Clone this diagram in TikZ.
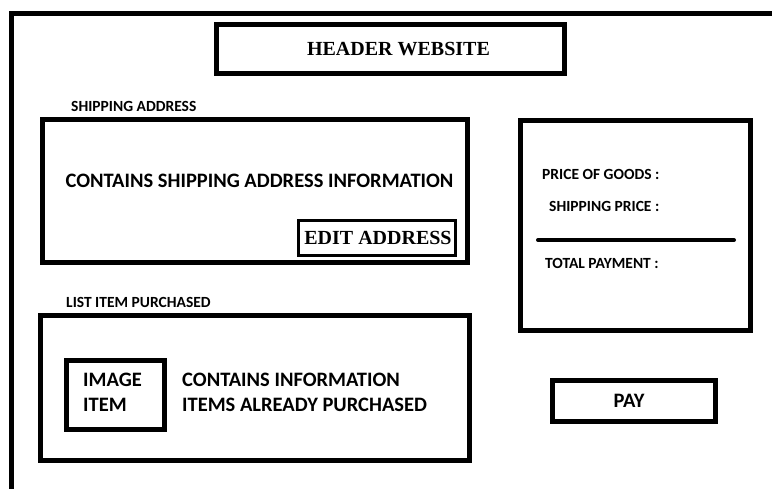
\documentclass[tikz,border=0pt]{standalone}
\usepackage{fontspec}
\setmainfont{Carlito}
\newfontfamily\serifbold{Liberation Serif}[BoldFont={* Bold}]
\begin{document}
\begin{tikzpicture}[x=1pt,y=-1pt,
  frame/.style={draw,line width=5pt,rectangle,inner sep=0pt},
  thinframe/.style={draw,line width=3pt,rectangle,inner sep=0pt},
  bigtext/.style={inner sep=0pt,font=\fontsize{20.5}{24}\selectfont\bfseries},
  smalltext/.style={inner sep=0pt,font=\fontsize{15.5}{18}\selectfont\bfseries},
  seriftext/.style={inner sep=0pt,font=\fontsize{20}{24}\selectfont\serifbold\bfseries}]
\useasboundingbox (0,0) rectangle (772,488);
\clip (0,0) rectangle (772,488);
% page frame, running off the right and bottom edges
\draw[line width=4.5pt] (11.5,520) -- (11.5,13.5) -- (800,13.5);

% header
\node[frame,minimum width=348.5pt,minimum height=49pt] (header) at (390.25,49) {};
\node[seriftext] (headertxt) at (398.5,49) {HEADER WEBSITE};

% shipping address
\node[smalltext,anchor=west] (shiplabel) at (71,106) {SHIPPING ADDRESS};
\node[frame,minimum width=425pt,minimum height=143pt] (shipbox) at (255,191) {};
\node[bigtext] (shiptxt) at (259.5,181) {CONTAINS SHIPPING ADDRESS INFORMATION};
\node[thinframe,minimum width=156.5pt,minimum height=34.5pt] (editbox) at (376.75,237.75) {};
\node[seriftext] (edittxt) at (378,238) {EDIT ADDRESS};

% purchased items
\node[smalltext,anchor=west] (listlabel) at (66,302) {LIST ITEM PURCHASED};
\node[frame,minimum width=429pt,minimum height=144.5pt] (listbox) at (255,387.75) {};
\node[frame,minimum width=98pt,minimum height=69pt] (imgbox) at (115.5,395) {};
\node[bigtext,anchor=west] (imgtxt1) at (83,380) {IMAGE};
\node[bigtext,anchor=west] (imgtxt2) at (83,405) {ITEM};
\node[bigtext,anchor=west] (infotxt1) at (182,380) {CONTAINS INFORMATION};
\node[bigtext,anchor=west] (infotxt2) at (182,405) {ITEMS ALREADY PURCHASED};

% payment summary
\node[frame,minimum width=230pt,minimum height=210pt] (sumbox) at (635,225) {};
\node[smalltext,anchor=west] (goods) at (542,174.5) {PRICE OF GOODS :};
\node[smalltext,anchor=west] (shipprice) at (549,206.5) {SHIPPING PRICE :};
\coordinate (divl) at (538,240);
\coordinate (divr) at (734,240);
\draw[line width=4pt,line cap=round] (divl) -- (divr);
\node[smalltext,anchor=west] (total) at (545,263) {TOTAL PAYMENT :};

% pay button
\node[frame,minimum width=162.5pt,minimum height=41pt] (pay) at (633.75,401) {};
\node[bigtext] (paytxt) at (629,401) {PAY};
\end{tikzpicture}
\end{document}
